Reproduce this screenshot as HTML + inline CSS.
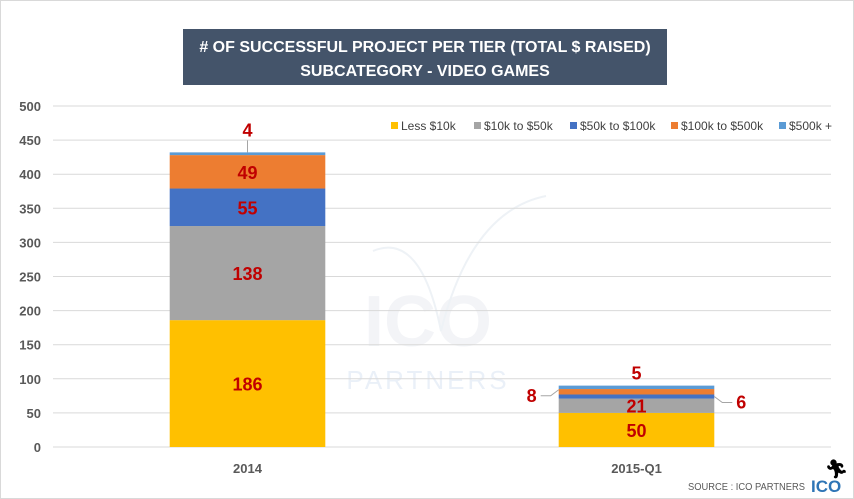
<!DOCTYPE html>
<html><head><meta charset="utf-8"><style>
body{margin:0;background:#fff;font-family:"Liberation Sans",sans-serif}
#wrap{position:relative;width:852px;height:497px;border:1px solid #d9d9d9;overflow:hidden}
</style></head><body>
<div id="wrap">
<svg id="chart" width="852" height="497"></svg>
</div>
<script>
const categories = ["2014", "2015-Q1"];
const seriesNames = ["Less $10k", "$10k to $50k", "$50k to $100k", "$100k to $500k", "$500k +"];
const seriesColors = ["#ffc000", "#a5a5a5", "#4472c4", "#ed7d31", "#5b9bd5"];
const lessThan10k = [186, 50];
const from10kTo50k = [138, 21];
const from50kTo100k = [55, 6];
const from100kTo500k = [49, 8];
const over500k = [4, 5];
const yTicks = [0, 50, 100, 150, 200, 250, 300, 350, 400, 450, 500];

const series = [lessThan10k, from10kTo50k, from50kTo100k, from100kTo500k, over500k];
const NS = "http://www.w3.org/2000/svg";
const svg = document.getElementById("chart");
const x0 = 52, x1 = 830, yBase = 446, yTop = 105, yMax = 500;
const y = v => yBase - v / yMax * (yBase - yTop);
const band = (x1 - x0) / categories.length;
const xc = i => x0 + band * (i + 0.5);
const bw = band * 0.4;
function mk(tag, attrs, text) {
  const e = document.createElementNS(NS, tag);
  for (const k in attrs) e.setAttribute(k, attrs[k]);
  if (text !== undefined) e.textContent = text;
  svg.appendChild(e);
  return e;
}
let wm = mk("text", {x: 427, y: 345, "text-anchor": "middle", "font-size": 72, "font-weight": "bold", fill: "#f3f4f7"}, "ICO");


let wm2 = mk("text", {x: 427, y: 388, "text-anchor": "middle", "font-size": 26, fill: "#eaf0f8", "letter-spacing": 3}, "PARTNERS");


let arc = mk("path", {d: "M372 250 Q420 230 440 330 Q470 210 545 195", fill: "none", stroke: "#eef2f6", "stroke-width": 2});



yTicks.forEach(t => {
  const g = mk("line", {x1: x0, x2: x1, y1: y(t), y2: y(t), stroke: "#d9d9d9", "stroke-width": 1});
  
  
  const l = mk("text", {x: 40, y: y(t) + 5, "text-anchor": "end", "font-size": 13, "font-weight": "bold", fill: "#595959"}, t);
  
  
});

categories.forEach((c, i) => {
  let acc = 0;
  series.forEach((s, k) => {
    const v = s[i];
    const r = mk("rect", {x: xc(i) - bw / 2, y: y(acc + v), width: bw, height: y(acc) - y(acc + v), fill: seriesColors[k]});
    
    
    const mid = (y(acc) + y(acc + v)) / 2;
    let lx = xc(i), ly = mid + 7, anchor = "middle";
    if (y(acc) - y(acc + v) < 14) {
      if (k === series.length - 1) { ly = y(acc + v) - 6; }
      else if (k === 3) {
        lx = xc(i) - bw / 2 - 22; ly = mid + 10; anchor = "end";
        const ln = mk("polyline", {points: `${xc(i) - bw / 2 - 18},${mid + 4} ${xc(i) - bw / 2 - 8},${mid + 4} ${xc(i) - bw / 2},${mid - 2}`, fill: "none", stroke: "#a5a5a5"});
        
        
      } else if (k === 2) {
        lx = xc(i) + bw / 2 + 22; ly = mid + 12; anchor = "start";
        const ln = mk("polyline", {points: `${xc(i) + bw / 2},${mid} ${xc(i) + bw / 2 + 8},${mid + 6} ${xc(i) + bw / 2 + 18},${mid + 6}`, fill: "none", stroke: "#a5a5a5"});
        
        
      }
    }
    if (k === series.length - 1 && i === 0) {
      ly = y(acc + v) - 16;
      const ln = mk("line", {x1: xc(i), x2: xc(i), y1: ly + 4, y2: y(acc + v), stroke: "#a5a5a5"});
      
      
    }
    const t = mk("text", {x: lx, y: ly, "text-anchor": anchor, "font-size": 18, "font-weight": "bold", fill: "#c00000"}, v);
    
    
    acc += v;
  });
  const cl = mk("text", {x: xc(i), y: 472, "text-anchor": "middle", "font-size": 13, "font-weight": "bold", fill: "#595959"}, c);
  
  
});

const legX = [390, 473, 569, 670, 778];
seriesNames.forEach((n, k) => {
  const r = mk("rect", {x: legX[k], y: 121, width: 7, height: 7, fill: seriesColors[k]});
  
  
  const t = mk("text", {x: legX[k] + 10, y: 129, "font-size": 12, fill: "#404040"}, n);
  
  
});

const tb = mk("rect", {x: 182, y: 28, width: 484, height: 56, fill: "#44546a"});


const t1 = mk("text", {x: 424, y: 51, "text-anchor": "middle", "font-size": 16, "font-weight": "bold", fill: "#fff"}, "# OF SUCCESSFUL PROJECT PER TIER (TOTAL $ RAISED)");


const t2 = mk("text", {x: 424, y: 75, "text-anchor": "middle", "font-size": 16, "font-weight": "bold", fill: "#fff"}, "SUBCATEGORY - VIDEO GAMES");



const s = mk("text", {x: 687, y: 489, "font-size": 10, fill: "#595959", textLength: 117, lengthAdjust: "spacingAndGlyphs"}, "SOURCE : ICO PARTNERS");


const lg = mk("text", {x: 810, y: 491, "font-size": 17, "font-weight": "bold", fill: "#2e75b6"}, "ICO");


const rn = mk("text", {x: 824, y: 474, "font-size": 18, "font-weight": "bold", fill: "#000"}, "\u{1F3C3}\uFE0E");


</script>
</body></html>
